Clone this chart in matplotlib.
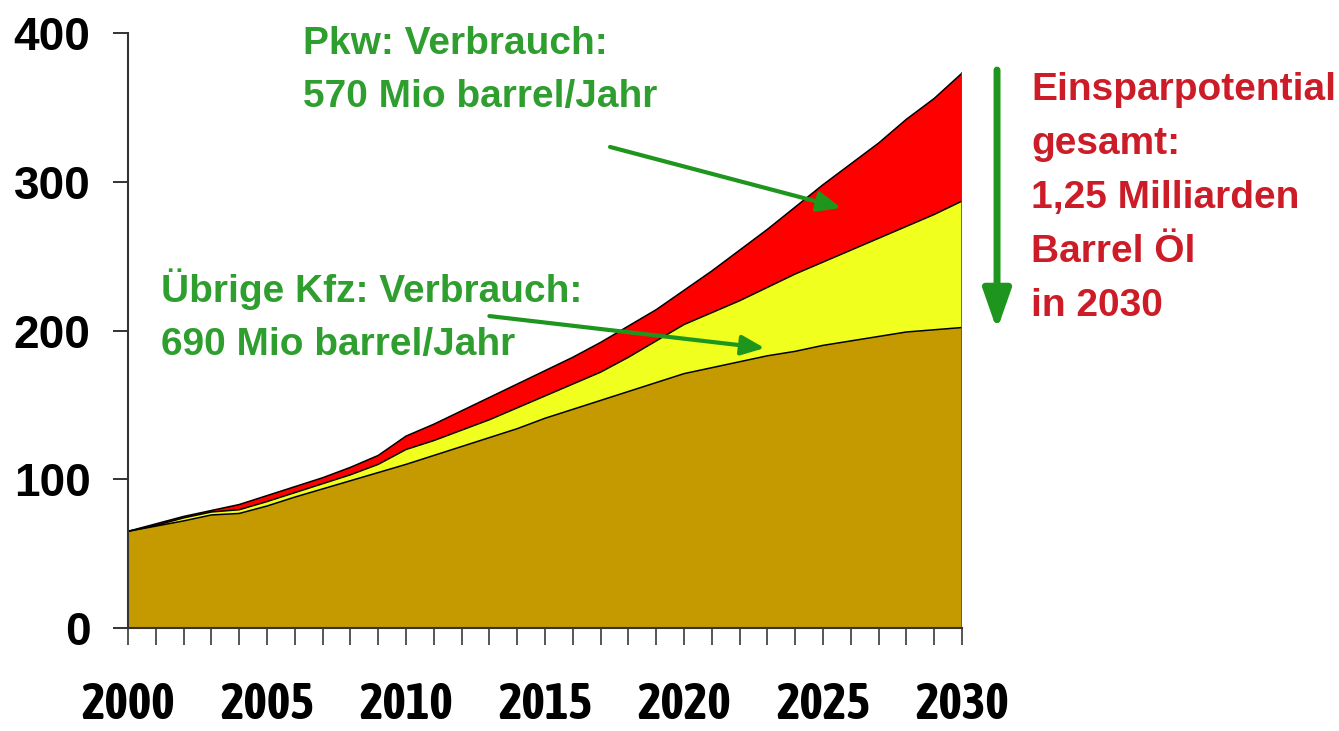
import numpy as np
import matplotlib
matplotlib.use("Agg")
import matplotlib.pyplot as plt
from matplotlib.ticker import MultipleLocator
from matplotlib import font_manager

# fonts: look for a narrow *bold* face for the year labels
BOLD = "Liberation Sans"
NARROW, NARROW_STRETCH = BOLD, "normal"
CONDENSED = ("condensed", "semi-condensed", "extra-condensed")
for f in font_manager.fontManager.ttflist:
    if "DejaVu" in f.name:
        continue
    wt = f.weight
    if isinstance(wt, str):
        wt = font_manager.weight_dict.get(wt, 400)
    if wt < 600:
        continue
    st = str(f.stretch)
    if "Narrow" in f.name or "Condensed" in f.name or st in CONDENSED:
        NARROW = f.name
        NARROW_STRETCH = st if st in CONDENSED else "normal"
        break

# 1. Data (stack tops)
years = list(range(2000, 2031))
base_top = [65, 68.5, 72, 76, 77, 82, 88, 93.5, 99, 104.5, 110,
            116, 122, 128, 134, 141, 147, 153, 159, 165, 171,
            175, 179, 183, 186, 190, 193, 196, 199, 200.5, 202]
yellow_top = [65, 69, 74, 78, 79.5, 85, 91, 97, 103, 110, 120,
              126, 133, 140, 148, 156, 164, 172, 182, 193, 204,
              212, 220, 229, 238, 246, 254, 262, 270, 278, 287]
red_top = [65, 70, 75, 79, 83, 89, 95, 101, 108, 116, 129,
           137, 146, 155, 164, 173, 182, 192, 203, 214, 227,
           240, 254, 268, 283, 298, 312, 326, 342, 356, 373]

y_ticks = [0, 100, 200, 300, 400]
x_ticks = [2000, 2005, 2010, 2015, 2020, 2025, 2030]

pkw_lines = ["Pkw: Verbrauch:", "570 Mio barrel/Jahr"]
other_lines = ["Übrige Kfz: Verbrauch:", "690 Mio barrel/Jahr"]
saving_lines = ["Einsparpotential", "gesamt:", "1,25 Milliarden", "Barrel Öl", "in 2030"]

BROWN = "#C49A00"
YELLOW = "#F0FF1E"
RED = "#FF0000"
GREEN_TXT = "#2E9E2E"
GREEN_ARR = "#1E961E"
RED_TXT = "#CC1C28"

# 2. Figure
fig = plt.figure(figsize=(13.39, 7.31), dpi=100)
ax = fig.add_axes([128/1339, 103/731, 834/1339, 595/731])

ax.fill_between(years, 0, base_top, facecolor=BROWN, edgecolor="none", zorder=2)
ax.fill_between(years, base_top, yellow_top, facecolor=YELLOW, edgecolor="none", zorder=2)
ax.fill_between(years, yellow_top, red_top, facecolor=RED, edgecolor="none", zorder=2)
for top in (base_top, yellow_top, red_top):
    ax.plot(years, top, color="black", lw=1.1, zorder=3)
ax.plot([years[-1], years[-1]], [0, red_top[-1]], color="#555555", lw=1.2, zorder=3)

ax.set_xlim(2000, 2030)
ax.set_ylim(0, 400)
for s in ("top", "right"):
    ax.spines[s].set_visible(False)
for s in ("left", "bottom"):
    ax.spines[s].set_linewidth(1.5)
    ax.spines[s].set_color("#333333")
    ax.spines[s].set_zorder(4)

ax.set_yticks(y_ticks)
ax.set_xticks(x_ticks)
ax.xaxis.set_minor_locator(MultipleLocator(1))
ax.tick_params(axis="y", direction="out", length=11, width=1.4, pad=16, color="#333333")
ax.tick_params(axis="x", which="both", direction="out", length=12, width=1.4, pad=26, color="#555555")
for lab in ax.get_yticklabels():
    lab.set_fontfamily(BOLD)
    lab.set_fontweight("bold")
    lab.set_fontsize(33)

# size the year labels so "2000" is about 102 px wide and at most 36 pt
probe = fig.text(0, 0, "2000", fontsize=36, family=NARROW, fontweight="bold",
                 fontstretch=NARROW_STRETCH)
w = probe.get_window_extent(renderer=fig.canvas.get_renderer()).width
probe.remove()
xsize = min(36, 36 * 102 / w)
for lab in ax.get_xticklabels():
    lab.set_fontfamily(NARROW)
    lab.set_fontstretch(NARROW_STRETCH)
    lab.set_fontweight("bold")
    lab.set_fontsize(xsize)

# 3. Annotations
def put_lines(lines, x, y0, step, color):
    for i, line in enumerate(lines):
        ax.text(x, y0 - i * step, line, color=color, fontsize=28, fontweight="bold",
                family=BOLD, ha="left", va="baseline", clip_on=False)

put_lines(pkw_lines, 2006.3, 386, 35.6, GREEN_TXT)
put_lines(other_lines, 2001.2, 219, 35.6, GREEN_TXT)
put_lines(saving_lines, 2032.5, 355, 36.3, RED_TXT)

thin = dict(arrowstyle="-|>,head_width=0.3,head_length=0.7", color=GREEN_ARR, lw=3,
            mutation_scale=20, shrinkA=0, shrinkB=0)
ax.annotate("", xy=(2025.65, 282.4), xytext=(2017.34, 323.4), arrowprops=thin,
            annotation_clip=False, zorder=5)
ax.annotate("", xy=(2022.9, 188.2), xytext=(2013.0, 209.7), arrowprops=thin,
            annotation_clip=False, zorder=5)
ax.annotate("", xy=(2031.26, 200.3), xytext=(2031.26, 375.1),
            arrowprops=dict(arrowstyle="-|>,head_width=0.42,head_length=1.2", color=GREEN_ARR,
                            lw=5, mutation_scale=20, shrinkA=0, shrinkB=0),
            annotation_clip=False)

fig.savefig("out.png", dpi=100, facecolor="white")
